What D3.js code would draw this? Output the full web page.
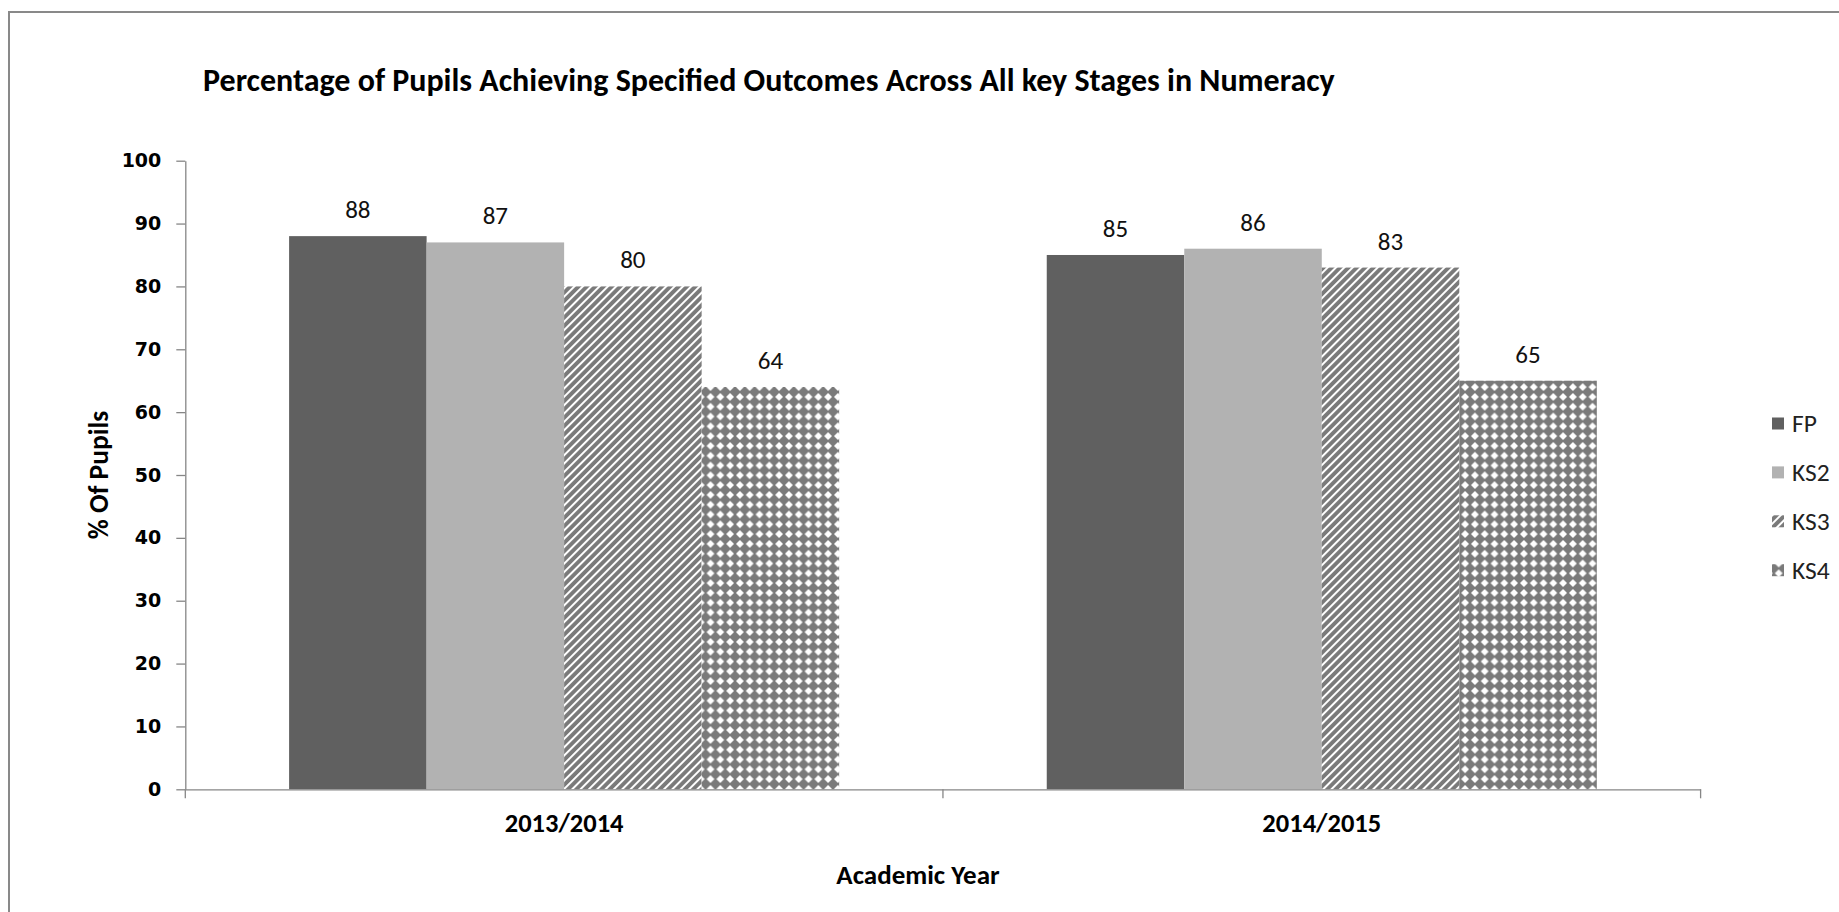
<!DOCTYPE html>
<html><head><meta charset="utf-8">
<script src="https://cdn.jsdelivr.net/npm/d3@7"></script>
<style>html,body{margin:0;padding:0;background:#fff;overflow:hidden}</style>
</head><body>
<svg id="chart" width="1839" height="912"></svg>
<script>
const categories = ["2013/2014", "2014/2015"];
const seriesNames = ["FP", "KS2", "KS3", "KS4"];
const FP = [88, 85];
const KS2 = [87, 86];
const KS3 = [80, 83];
const KS4 = [64, 65];
const yTicks = [0, 10, 20, 30, 40, 50, 60, 70, 80, 90, 100];
const titleText = "Percentage of Pupils Achieving Specified Outcomes Across All key Stages in Numeracy";
const yTitle = "% Of Pupils";
const xTitle = "Academic Year";

const seriesValues = [FP, KS2, KS3, KS4];
const fills = ["#606060", "#b2b2b2", "url(#ks3)", "url(#ks4)"];
const font = "Calibri, Carlito, Lato, sans-serif";

const svg = d3.select("#chart");
const defs = svg.append("defs");
// KS3 upward diagonal stripes
const sp = 5.9;
const p3 = defs.append("pattern").attr("id", "ks3").attr("patternUnits", "userSpaceOnUse")
  .attr("width", sp).attr("height", 10).attr("patternTransform", "rotate(45)");
p3.append("rect").attr("width", sp).attr("height", 10).attr("fill", "#7a7a7a");
p3.append("rect").attr("width", 2.0).attr("height", 10).attr("fill", "#ffffff");
// KS4 diamond pattern
const d4 = 9.8;
const r4 = 3.9;
const p4 = defs.append("pattern").attr("id", "ks4").attr("patternUnits", "userSpaceOnUse")
  .attr("width", d4).attr("height", d4);
p4.append("rect").attr("width", d4).attr("height", d4).attr("fill", "#7a7a7a");
p4.append("path").attr("fill", "#ffffff")
  .attr("d", `M${d4/2},${d4/2-r4} L${d4/2+r4},${d4/2} L${d4/2},${d4/2+r4} L${d4/2-r4},${d4/2} Z`);

// frame
svg.append("rect").attr("x", 9).attr("y", 12).attr("width", 1900).attr("height", 1000)
  .attr("fill", "none").attr("stroke", "#898989").attr("stroke-width", 2);

const plot = {left: 185.3, right: 1700.6, top: 160.7, bottom: 789.3};
const y = d3.scaleLinear().domain([0, 100]).range([plot.bottom, plot.top]);
const x0 = d3.scaleBand().domain(categories).range([plot.left, plot.right]).padding(0);
const gapFrac = 0.137;
const x1 = d3.scaleBand().domain(seriesNames)
  .range([x0.bandwidth() * gapFrac, x0.bandwidth() * (1 - gapFrac)]).padding(0);

// bars
categories.forEach((c, ci) => {
  seriesNames.forEach((s, si) => {
    const v = seriesValues[si][ci];
    const bx = x0(c) + x1(s);
    svg.append("rect").attr("x", bx).attr("y", y(v))
      .attr("width", x1.bandwidth()).attr("height", y(0) - y(v)).attr("fill", fills[si]);
    svg.append("text").attr("x", bx + x1.bandwidth() / 2).attr("y", y(v) - 18)
      .attr("text-anchor", "middle").attr("font-family", font).attr("font-size", 25)
      .attr("fill", "#111").text(v);
  });
});

// y axis
const yAxis = d3.axisLeft(y).tickValues(yTicks).tickSize(9).tickPadding(15).tickSizeOuter(0);
const gy = svg.append("g").attr("transform", `translate(${plot.left},0)`).call(yAxis);
gy.select(".domain").attr("stroke", "#868686").attr("stroke-width", 1.3);
gy.selectAll(".tick line").attr("stroke", "#868686").attr("stroke-width", 1.3);
gy.selectAll(".tick text").attr("font-family", "DejaVu Sans, sans-serif").attr("font-weight", "bold")
  .attr("font-size", 19).attr("fill", "#000");

// x axis
const xAxis = d3.axisBottom(x0).tickSize(0).tickPadding(24);
const gx = svg.append("g").attr("transform", `translate(0,${plot.bottom})`).call(xAxis);
gx.select(".domain").attr("stroke", "#868686").attr("stroke-width", 1.3);
gx.selectAll(".tick text").attr("font-family", font).attr("font-weight", "bold")
  .attr("font-size", 26.5).attr("fill", "#000");
// category boundary ticks
const bounds = [plot.left, x0(categories[1]), plot.right];
svg.selectAll(".bt").data(bounds).enter().append("line")
  .attr("x1", d => d).attr("x2", d => d).attr("y1", plot.bottom).attr("y2", plot.bottom + 9)
  .attr("stroke", "#868686").attr("stroke-width", 1.3);

// titles
svg.append("text").attr("x", 203).attr("y", 91).attr("font-family", font).attr("font-weight", "bold")
  .attr("font-size", 32).attr("fill", "#000").text(titleText);
svg.append("text").attr("transform", `translate(108,${(plot.top + plot.bottom) / 2}) rotate(-90)`)
  .attr("text-anchor", "middle").attr("font-family", font).attr("font-weight", "bold")
  .attr("font-size", 27.5).attr("fill", "#000").text(yTitle);
svg.append("text").attr("x", 918).attr("y", 884).attr("text-anchor", "middle")
  .attr("font-family", font).attr("font-weight", "bold").attr("font-size", 27).attr("fill", "#000").text(xTitle);

// legend
const lg = svg.append("g");
seriesNames.forEach((s, i) => {
  const ly = 423.5 + i * 48.9;
  lg.append("rect").attr("x", 1772).attr("y", ly - 6).attr("width", 12).attr("height", 12).attr("fill", fills[i]);
  lg.append("text").attr("x", 1792).attr("y", ly + 8.5).attr("font-family", font)
    .attr("font-size", 25.5).attr("fill", "#222").text(s);
});
</script>
</body></html>
